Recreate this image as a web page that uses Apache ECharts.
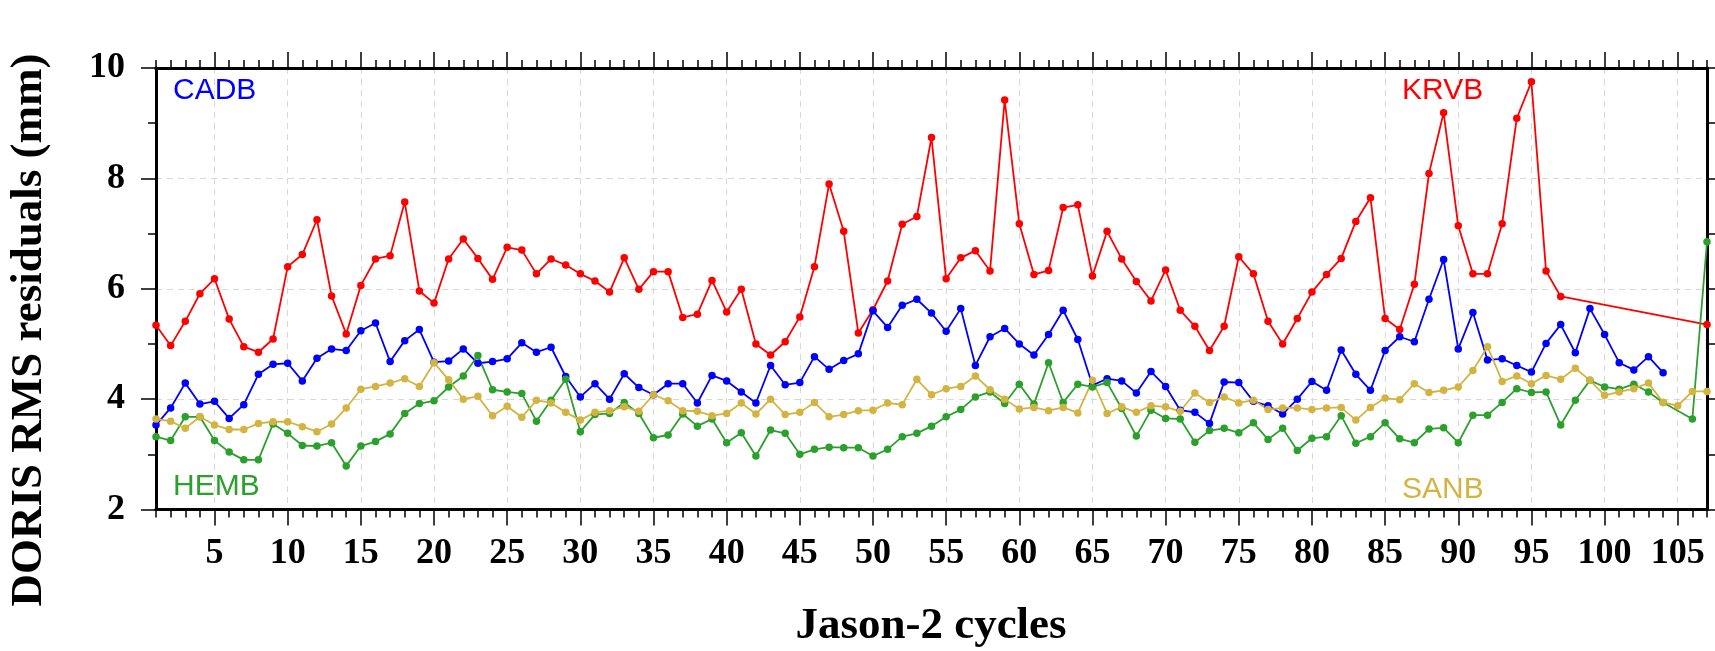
<!DOCTYPE html>
<html>
<head>
<meta charset="utf-8">
<script src="https://cdn.jsdelivr.net/npm/echarts@6/dist/echarts.min.js"></script>
<style>html,body{margin:0;padding:0;background:#fff;}#chart{width:1715px;height:651px;}</style>
</head>
<body>
<div id="chart"></div>
<script>
const cycles = [];
for (let i = 1; i <= 107; i++) cycles.push(String(i));

const krvb = [5.34,4.97,5.41,5.91,6.18,5.45,4.95,4.85,5.09,6.40,
6.62,7.25,5.87,5.18,6.06,6.54,6.60,7.57,5.96,5.74,
6.54,6.90,6.55,6.17,6.75,6.70,6.27,6.54,6.43,6.27,
6.14,5.94,6.56,5.99,6.31,6.31,5.48,5.54,6.15,5.58,
5.99,5.00,4.80,5.04,5.49,6.40,7.90,7.04,5.20,5.62,
6.14,7.17,7.31,8.74,6.18,6.56,6.69,6.32,9.42,7.18,
6.26,6.33,7.47,7.52,6.23,7.04,6.54,6.13,5.78,6.34,
5.61,5.32,4.88,5.32,6.58,6.27,5.41,5.00,5.46,5.94,
6.26,6.55,7.22,7.65,5.46,5.26,6.08,8.09,9.19,7.14,
6.27,6.27,7.18,9.09,9.75,6.32,5.86,null,null,null,
null,null,null,null,null,null,5.35];

const cadb = [3.53,3.84,4.29,3.91,3.96,3.65,3.90,4.45,4.63,4.65,
4.33,4.74,4.91,4.88,5.24,5.38,4.68,5.06,5.26,4.67,
4.69,4.91,4.65,4.68,4.73,5.02,4.85,4.94,4.41,4.04,
4.28,4.00,4.46,4.21,4.08,4.28,4.28,3.93,4.43,4.33,
4.13,3.93,4.61,4.26,4.30,4.77,4.54,4.70,4.82,5.60,
5.30,5.70,5.81,5.56,5.23,5.64,4.61,5.13,5.28,5.00,
4.80,5.17,5.61,5.08,4.25,4.37,4.33,4.11,4.50,4.23,
3.80,3.76,3.56,4.31,4.30,3.96,3.88,3.73,4.00,4.32,
4.16,4.89,4.45,4.16,4.88,5.13,5.04,5.81,6.53,4.91,
5.57,4.71,4.73,4.61,4.49,5.01,5.35,4.84,5.64,5.17,
4.66,4.53,4.77,4.48,null,null,null];

const hemb = [3.32,3.25,3.68,3.68,3.25,3.04,2.90,2.90,3.55,3.38,
3.16,3.15,3.21,2.79,3.15,3.23,3.37,3.74,3.92,3.97,
4.22,4.42,4.79,4.17,4.13,4.10,3.60,3.98,4.36,3.41,
3.72,3.74,3.94,3.74,3.30,3.35,3.73,3.51,3.64,3.21,
3.39,2.97,3.44,3.38,3.00,3.09,3.13,3.12,3.12,2.97,
3.09,3.32,3.38,3.51,3.68,3.81,4.04,4.13,3.92,4.27,
3.91,4.66,3.94,4.27,4.22,4.30,3.83,3.33,3.80,3.65,
3.64,3.22,3.43,3.47,3.39,3.57,3.27,3.47,3.07,3.29,
3.32,3.70,3.20,3.32,3.57,3.28,3.21,3.46,3.48,3.21,
3.71,3.71,3.94,4.19,4.12,4.13,3.53,3.98,4.34,4.22,
4.18,4.27,4.13,3.94,null,3.64,6.85];

const sanb = [3.64,3.60,3.47,3.68,3.53,3.45,3.45,3.56,3.59,3.59,
3.50,3.41,3.55,3.84,4.18,4.23,4.29,4.37,4.23,4.66,
4.35,4.00,4.05,3.70,3.87,3.67,3.98,3.93,3.76,3.62,
3.76,3.79,3.86,3.78,4.08,3.97,3.79,3.78,3.70,3.74,
3.93,3.73,4.00,3.72,3.76,3.94,3.68,3.72,3.79,3.80,
3.93,3.90,4.36,4.08,4.19,4.23,4.42,4.17,4.00,3.82,
3.85,3.79,3.85,3.75,4.34,3.74,3.86,3.76,3.88,3.86,
3.78,4.11,3.94,4.04,3.93,3.98,3.81,3.84,3.84,3.81,
3.84,3.85,3.62,3.85,4.02,3.99,4.28,4.12,4.16,4.22,
4.52,4.95,4.32,4.42,4.28,4.43,4.36,4.56,4.34,4.07,
4.13,4.19,4.29,3.94,3.88,4.14,4.14];

const seriesNames = ['KRVB','CADB','HEMB','SANB'];
const seriesColors = ['#ff0000','#0000ff','#2ca02c','#d4b440'];
const seriesData = [krvb, cadb, hemb, sanb];

const serif = '"Liberation Serif", "Times New Roman", serif';
const sans = '"Liberation Sans", Arial, sans-serif';
const major = (i, v) => Number(v) % 5 === 0;

const chart = echarts.init(document.getElementById('chart'));

function xAx(pos, isMajor, showLabel) {
  return {
    type: 'category', position: pos, data: cycles, boundaryGap: false,
    axisLine: { show: true, onZero: false, lineStyle: { color: '#000', width: 3 } },
    axisTick: { show: true, interval: isMajor ? major : 0, length: isMajor ? 16 : 8, lineStyle: { color: '#000', width: 1.5 } },
    axisLabel: { show: showLabel, interval: major, fontFamily: serif, fontWeight: 'bold', fontSize: 36, color: '#000', margin: 26 },
    splitLine: { show: showLabel, interval: major, lineStyle: { color: '#d8d8d8', type: [6, 5], width: 1 } }
  };
}
function yAx(pos, showLabel) {
  return {
    type: 'value', position: pos, min: 2, max: 10, interval: 2,
    axisLine: { show: true, onZero: false, lineStyle: { color: '#000', width: 3 } },
    axisTick: { show: true, length: 15, lineStyle: { color: '#000', width: 1.5 } },
    minorTick: { show: true, splitNumber: 2, length: 8, lineStyle: { color: '#000', width: 1.5 } },
    axisLabel: { show: showLabel, fontFamily: serif, fontWeight: 'bold', fontSize: 36, color: '#000', margin: 31 },
    splitLine: { show: showLabel, lineStyle: { color: '#d8d8d8', type: [6, 5], width: 1 } }
  };
}

const labelPos = [
  { name: 'KRVB', x: 1402, y: 91 },
  { name: 'CADB', x: 173, y: 91 },
  { name: 'HEMB', x: 173, y: 487 },
  { name: 'SANB', x: 1402, y: 490 }
];

chart.setOption({
  animation: false,
  backgroundColor: '#fff',
  grid: { left: 156, right: 8, top: 68, bottom: 141.5, containLabel: false },
  xAxis: [xAx('bottom', true, true), xAx('bottom', false, false), xAx('top', true, false), xAx('top', false, false)],
  yAxis: [yAx('left', true), yAx('right', false)],
  series: seriesNames.map((n, k) => ({
    name: n, type: 'line', data: seriesData[k], xAxisIndex: 0, yAxisIndex: 0,
    connectNulls: true, symbol: 'circle', symbolSize: 7.5, clip: true,
    lineStyle: { color: seriesColors[k], width: 1.8 },
    itemStyle: { color: seriesColors[k] }
  })),
  graphic: [
    { type: 'text', x: 29, y: 330, rotation: Math.PI / 2,
      style: { text: 'DORIS RMS residuals (mm)', font: 'bold 45px ' + serif, fill: '#000', textAlign: 'center', textVerticalAlign: 'middle' } },
    { type: 'text', x: 931, y: 626,
      style: { text: 'Jason-2 cycles', font: 'bold 45px ' + serif, fill: '#000', textAlign: 'center', textVerticalAlign: 'middle' } }
  ].concat(labelPos.map(p => ({
    type: 'text', x: p.x, y: p.y,
    style: { text: p.name, font: '30px ' + sans, fill: seriesColors[seriesNames.indexOf(p.name)], textAlign: 'left', textVerticalAlign: 'middle' }
  })))
});
</script>
</body>
</html>
